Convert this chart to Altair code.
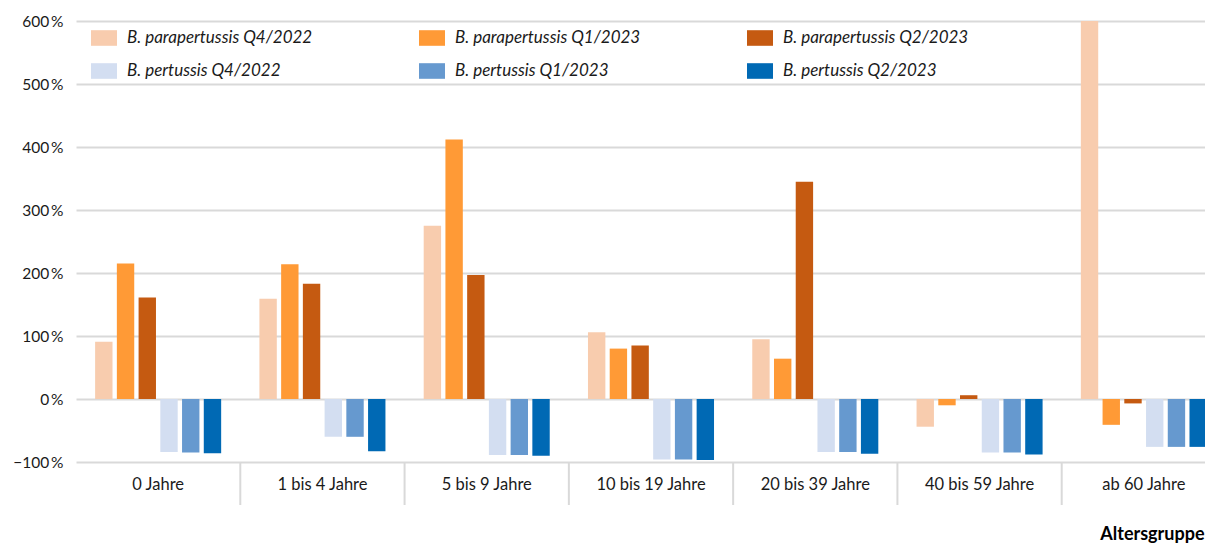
import altair as alt
import pandas as pd

categories = ["0 Jahre", "1 bis 4 Jahre", "5 bis 9 Jahre", "10 bis 19 Jahre",
              "20 bis 39 Jahre", "40 bis 59 Jahre", "ab 60 Jahre"]
series = ["B. parapertussis Q4/2022", "B. parapertussis Q1/2023", "B. parapertussis Q2/2023",
          "B. pertussis Q4/2022", "B. pertussis Q1/2023", "B. pertussis Q2/2023"]
colors = ["#f8ccae", "#ff9a36", "#c55a11", "#d3def1", "#6699cf", "#0069b4"]

para_q4_2022 = [91, 159, 275, 106, 95, -44, 600]
para_q1_2023 = [215, 214, 412, 80, 64, -10, -41]
para_q2_2023 = [161, 183, 197, 85, 345, 6, -7]
pert_q4_2022 = [-84, -60, -89, -96, -84, -85, -76]
pert_q1_2023 = [-85, -60, -89, -96, -84, -85, -76]
pert_q2_2023 = [-86, -83, -90, -97, -87, -88, -76]

y_ticks = [-100, 0, 100, 200, 300, 400, 500, 600]

values = [para_q4_2022, para_q1_2023, para_q2_2023, pert_q4_2022, pert_q1_2023, pert_q2_2023]
rows = []
for s, vals in zip(series, values):
    for c, v in zip(categories, vals):
        rows.append({"Altersgruppe": c, "Serie": s, "Wert": v})
df = pd.DataFrame(rows)

x_scale = alt.Scale(paddingInner=0, paddingOuter=0, range=[0, 1150])

bars = alt.Chart(df).mark_bar().encode(
    x=alt.X("Altersgruppe:N", sort=categories, scale=x_scale,
            axis=alt.Axis(title="Altersgruppe", labelAngle=0, ticks=False,
                          domain=False, labelPadding=14, labelFontSize=16.5, labelColor="#1a1a1a",
                          titleFontSize=18, titleFontWeight="bold", titleColor="#000000",
                          titleAlign="right", titleBaseline="alphabetic", titleX=1128, titleY=77.5)),
    xOffset=alt.XOffset("Serie:N", sort=series,
                        scale=alt.Scale(paddingInner=0.2, paddingOuter=0.88)),
    y=alt.Y("Wert:Q", scale=alt.Scale(domain=[-100, 600], nice=False),
            axis=alt.Axis(values=y_ticks, title=None, grid=True, gridColor="#d9d9d9", gridWidth=1.8,
                          ticks=False, domain=False, labelPadding=13, labelFontSize=15.5, labelColor="#1a1a1a",
                          labelExpr="(datum.value < 0 ? '\u2212' : '') + abs(datum.value) + '\u2009%'")),
    color=alt.Color("Serie:N", sort=series, scale=alt.Scale(domain=series, range=colors),
                    legend=alt.Legend(title=None, orient="none", legendX=15, legendY=4,
                                      direction="horizontal", columns=3,
                                      symbolType="M-1,-0.6H1V0.6H-1Z", symbolSize=676,
                                      symbolStrokeWidth=0, symbolOpacity=1,
                                      labelFontSize=17, labelFontStyle="italic", labelColor="#1a1a1a",
                                      labelOffset=10, columnPadding=106, rowPadding=12,
                                      gridAlign="all", labelLimit=300)),
)

# category separators below the plot (between groups only)
separators = alt.Chart(pd.DataFrame({"Altersgruppe": categories[1:]})).mark_rule(
    color="#d9d9d9", strokeWidth=2
).encode(
    x=alt.X("Altersgruppe:N", sort=categories, scale=x_scale, bandPosition=0),
    y=alt.value(441),
    y2=alt.value(484),
)

chart = alt.layer(bars, separators).properties(
    width=1129, height=441,
    autosize=alt.AutoSizeParams(type="none"),
    padding={"left": 68, "top": 13, "right": 0, "bottom": 81},
).configure(
    font="Lato",
).configure_view(stroke=None)

chart.save("out.html", embed_options={"renderer": "svg", "actions": False})
